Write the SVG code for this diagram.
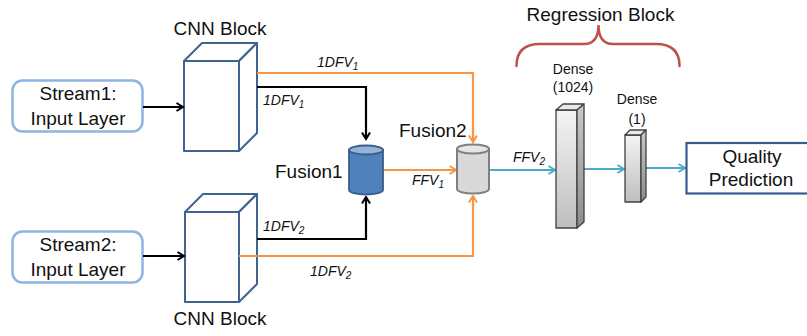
<svg xmlns="http://www.w3.org/2000/svg" width="807" height="336" viewBox="0 0 807 336">
<defs>
<style>
.t{font-family:"Liberation Sans",Arial,sans-serif;font-size:19px;fill:#111}
.lbl{font-family:"Liberation Sans",Arial,sans-serif;font-size:14px;font-style:italic;fill:#111}
.sm{font-family:"Liberation Sans",Arial,sans-serif;font-size:14px;fill:#111}
.inbox{fill:#fff;stroke:#8EB4E3;stroke-width:2.5}
.cnn{fill:#fff;stroke:#41648F;stroke-width:2;stroke-linejoin:round}
.blk{fill:none;stroke:#000;stroke-width:2.2}
.org{fill:none;stroke:#F79646;stroke-width:2.2}
.teal{fill:none;stroke:#4BACC6;stroke-width:2.2}
.bar{stroke:#404040;stroke-width:1.3;stroke-linejoin:round}
</style>
<marker id="ab" viewBox="0 0 10 10" refX="8.5" refY="5" markerWidth="10" markerHeight="10" markerUnits="userSpaceOnUse" orient="auto"><path d="M2,1 L8.5,5 L2,9" fill="none" stroke="#000" stroke-width="2"/></marker>
<marker id="ao" viewBox="0 0 10 10" refX="8.5" refY="5" markerWidth="10" markerHeight="10" markerUnits="userSpaceOnUse" orient="auto"><path d="M2,1 L8.5,5 L2,9" fill="none" stroke="#F79646" stroke-width="2"/></marker>
<marker id="at" viewBox="0 0 10 10" refX="8.5" refY="5" markerWidth="10" markerHeight="10" markerUnits="userSpaceOnUse" orient="auto"><path d="M2,1 L8.5,5 L2,9" fill="none" stroke="#4BACC6" stroke-width="2"/></marker>
<linearGradient id="gbar" x1="0" y1="0" x2="0" y2="1"><stop offset="0" stop-color="#F4F4F4"/><stop offset="1" stop-color="#BEBEBE"/></linearGradient>
<linearGradient id="gside" x1="0" y1="0" x2="0" y2="1"><stop offset="0" stop-color="#C8C8C8"/><stop offset="1" stop-color="#8C8C8C"/></linearGradient>
</defs>
<rect width="807" height="336" fill="#fff"/>

<g id="stream1">
<rect class="inbox" x="12.5" y="80.5" width="130" height="51" rx="10"/>
<text class="t" x="78" y="100" text-anchor="middle">Stream1:</text>
<text class="t" x="78" y="125" text-anchor="middle">Input Layer</text>
</g>
<g id="stream2">
<rect class="inbox" x="12.5" y="231.5" width="130" height="51" rx="10"/>
<text class="t" x="78" y="251" text-anchor="middle">Stream2:</text>
<text class="t" x="78" y="276" text-anchor="middle">Input Layer</text>
</g>

<g id="cnn1">
<rect class="cnn" x="184" y="61" width="55" height="90"/>
<polygon class="cnn" points="184,61 202,43 257,43 239,61"/>
<polygon class="cnn" points="239,61 257,43 257,133 239,151"/>
<text class="t" x="220" y="35" text-anchor="middle">CNN Block</text>
</g>
<g id="cnn2">
<rect class="cnn" x="185" y="212" width="54" height="90"/>
<polygon class="cnn" points="185,212 203,194 257,194 239,212"/>
<polygon class="cnn" points="239,212 257,194 257,284 239,302"/>
<text class="t" x="220" y="325" text-anchor="middle">CNN Block</text>
</g>

<g id="connectors">
<path class="blk" d="M143,107 H183" marker-end="url(#ab)"/>
<path class="blk" d="M143,256 H184" marker-end="url(#ab)"/>
<path class="blk" d="M257,87 H366 V139" marker-end="url(#ab)"/>
<path class="blk" d="M257,239 H366 V197" marker-end="url(#ab)"/>
<path class="org" d="M257,73 H473 V142" marker-end="url(#ao)"/>
<path class="org" d="M239,256 H473 V196" marker-end="url(#ao)"/>
<path class="org" d="M383,170 H456" marker-end="url(#ao)"/>
<path class="teal" d="M489,170 H555" marker-end="url(#at)"/>
<path class="teal" d="M584,169 H624" marker-end="url(#at)"/>
<path class="teal" d="M646,168 H685" marker-end="url(#at)"/>
<text class="lbl" x="317" y="67">1DFV<tspan font-size="10" dy="3">1</tspan></text>
<text class="lbl" x="263" y="105">1DFV<tspan font-size="10" dy="3">1</tspan></text>
<text class="lbl" x="263" y="231">1DFV<tspan font-size="10" dy="3">2</tspan></text>
<text class="lbl" x="310" y="276">1DFV<tspan font-size="10" dy="3">2</tspan></text>
<text class="lbl" x="412" y="185">FFV<tspan font-size="10" dy="3">1</tspan></text>
<text class="lbl" x="513" y="162">FFV<tspan font-size="10" dy="3">2</tspan></text>
</g>

<g id="fusion1">
<path d="M349,150 V190 A17,4.5 0 0 0 383,190 V150 Z" fill="#4F81BD" stroke="#385D8A" stroke-width="1.8"/>
<ellipse cx="366" cy="150" rx="17" ry="4.5" fill="#95B3D7" stroke="#385D8A" stroke-width="1.8"/>
<text class="t" x="275" y="178">Fusion1</text>
</g>
<g id="fusion2">
<path d="M457,149 V189 A16,4.5 0 0 0 489,189 V149 Z" fill="#D9D9D9" stroke="#7F7F7F" stroke-width="2"/>
<ellipse cx="473" cy="149" rx="16" ry="4.5" fill="#E6E6E6" stroke="#7F7F7F" stroke-width="2"/>
<text class="t" x="399" y="137">Fusion2</text>
</g>

<g id="regression">
<path d="M516.5,66 Q516.5,44 540,44 H584 Q598.5,44 598.5,25 Q598.5,44 613,44 H656 Q679.5,44 679.5,66" fill="none" stroke="#C0504D" stroke-width="2.5" stroke-linecap="round"/>
<text class="t" x="600.5" y="21" text-anchor="middle">Regression Block</text>
</g>

<g id="dense1024">
<rect class="bar" x="556" y="110" width="21" height="118" fill="url(#gbar)"/>
<polygon class="bar" points="556,110 563,104 584,104 577,110" fill="#E8E8E8"/>
<polygon class="bar" points="577,110 584,104 584,222 577,228" fill="url(#gside)"/>
<text class="sm" x="573" y="74" text-anchor="middle">Dense</text>
<text class="sm" x="573" y="92" text-anchor="middle">(1024)</text>
</g>
<g id="dense1">
<rect class="bar" x="625" y="135" width="16" height="67" fill="url(#gbar)"/>
<polygon class="bar" points="625,135 630,130 646,130 641,135" fill="#E8E8E8"/>
<polygon class="bar" points="641,135 646,130 646,197 641,202" fill="url(#gside)"/>
<text class="sm" x="637" y="104" text-anchor="middle">Dense</text>
<text class="sm" x="637" y="124" text-anchor="middle">(1)</text>
</g>

<g id="quality">
<rect x="686.5" y="143" width="130" height="50.5" fill="#fff" stroke="#385D8A" stroke-width="2.2"/>
<text class="t" x="752" y="163" text-anchor="middle">Quality</text>
<text class="t" x="751" y="186" text-anchor="middle">Prediction</text>
</g>
</svg>
